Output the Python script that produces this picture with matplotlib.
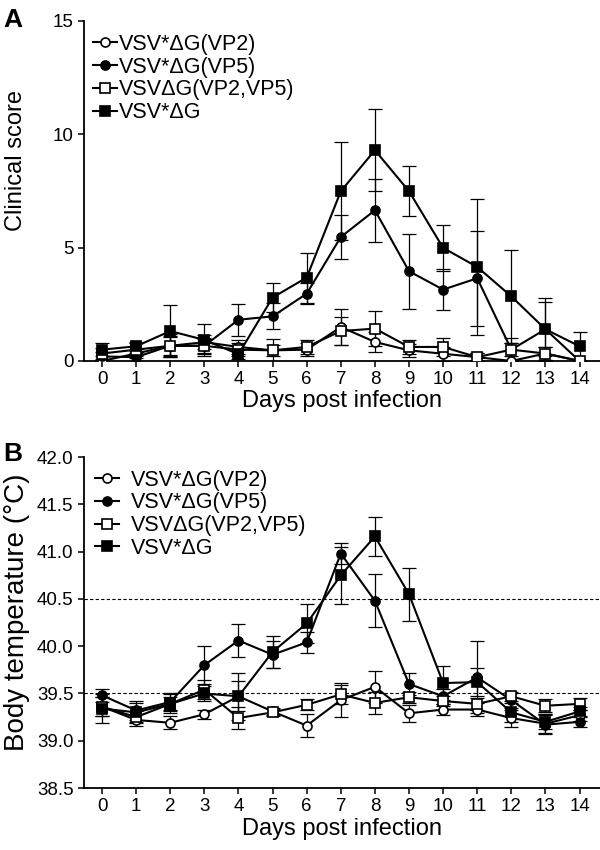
import matplotlib
matplotlib.use("Agg")
import matplotlib.pyplot as plt
from matplotlib.ticker import FormatStrFormatter

plt.rcParams['font.family'] = ['Liberation Sans', 'DejaVu Sans']

days = list(range(15))
labels = ['VSV*\u0394G(VP2)', 'VSV*\u0394G(VP5)', 'VSV\u0394G(VP2,VP5)', 'VSV*\u0394G']

# Panel A - clinical score
score_vp2 = [0, 0.33, 0.67, 0.83, 0.62, 0.47, 0.5, 1.5, 0.84, 0.47, 0.32, 0.17, 0, 0.33, 0]
score_vp2_err = [0, 0.2, 0.4, 0.3, 0.3, 0.25, 0.3, 0.78, 0.44, 0.3, 0.3, 0.17, 0, 0.3, 0]
score_vp5 = [0.2, 0.17, 0.67, 0.67, 1.82, 1.97, 2.97, 5.47, 6.65, 3.96, 3.15, 3.65, 0.5, 1.4, 0]
score_vp5_err = [0.2, 0.2, 0.5, 0.35, 0.71, 0.57, 0.47, 0.95, 1.38, 1.66, 0.92, 2.1, 0.5, 1.2, 0]
score_vp25 = [0.33, 0.5, 0.67, 0.67, 0.5, 0.47, 0.62, 1.32, 1.43, 0.62, 0.62, 0.17, 0.5, 0.33, 0]
score_vp25_err = [0.25, 0.3, 0.45, 0.3, 0.3, 0.5, 0.3, 0.63, 0.78, 0.3, 0.4, 0.17, 0.3, 0.3, 0]
score_dg = [0.5, 0.65, 1.32, 0.93, 0.3, 2.8, 3.68, 7.49, 9.3, 7.49, 4.99, 4.15, 2.85, 1.4, 0.65]
score_dg_err = [0.3, 0.2, 1.14, 0.7, 0.2, 0.66, 1.1, 2.16, 1.8, 1.1, 1.0, 3.0, 2.05, 1.4, 0.65]

# Panel B - body temperature
temp_vp2 = [39.36, 39.22, 39.19, 39.28, 39.47, 39.31, 39.16, 39.43, 39.57, 39.29, 39.33, 39.33, 39.24, 39.18, 39.27]
temp_vp2_err = [0.1, 0.06, 0.07, 0.05, 0.16, 0.04, 0.12, 0.18, 0.17, 0.09, 0.06, 0.07, 0.09, 0.1, 0.06]
temp_vp5 = [39.48, 39.32, 39.41, 39.80, 40.06, 39.91, 40.04, 40.98, 40.48, 39.60, 39.47, 39.67, 39.43, 39.17, 39.20]
temp_vp5_err = [0.07, 0.1, 0.1, 0.2, 0.17, 0.14, 0.11, 0.11, 0.28, 0.12, 0.08, 0.38, 0.08, 0.1, 0.05]
temp_vp25 = [39.36, 39.25, 39.39, 39.54, 39.24, 39.30, 39.38, 39.49, 39.40, 39.46, 39.42, 39.39, 39.47, 39.37, 39.39]
temp_vp25_err = [0.1, 0.06, 0.07, 0.1, 0.12, 0.04, 0.06, 0.1, 0.12, 0.06, 0.05, 0.06, 0.05, 0.07, 0.06]
temp_dg = [39.34, 39.30, 39.39, 39.50, 39.47, 39.94, 40.24, 40.75, 41.16, 40.55, 39.61, 39.62, 39.30, 39.20, 39.31]
temp_dg_err = [0.15, 0.1, 0.1, 0.08, 0.25, 0.17, 0.21, 0.3, 0.21, 0.28, 0.18, 0.15, 0.1, 0.08, 0.05]

styles = [('o', 'white'), ('o', 'black'), ('s', 'white'), ('s', 'black')]


def draw_panel(ax, series, errs, ylim, yticks):
    for (mk, fc), y, e, lab in zip(styles, series, errs, labels):
        ax.errorbar(days, y, yerr=e, fmt='none', ecolor='black', elinewidth=0.9,
                    capsize=5, capthick=0.9, zorder=2)
        ax.plot(days, y, marker=mk, mfc=fc, mec='black', mew=1.2, ms=6.5,
                color='black', lw=1.5, label=lab, zorder=3)
    ax.set_xlim(-0.53, 14.6)
    ax.set_ylim(*ylim)
    ax.set_xticks(days)
    ax.set_yticks(yticks)
    for s in ['top', 'right']:
        ax.spines[s].set_visible(False)
    for s in ['left', 'bottom']:
        ax.spines[s].set_linewidth(1.3)
    ax.tick_params(direction='out', length=4, width=1.1, labelsize=13.5)
    ax.set_xlabel('Days post infection', fontsize=17)


fig = plt.figure(figsize=(6, 8.5), dpi=100)

axA = fig.add_axes([0.14, 0.5753, 0.86, 0.4])
draw_panel(axA, [score_vp2, score_vp5, score_vp25, score_dg],
           [score_vp2_err, score_vp5_err, score_vp25_err, score_dg_err],
           (0, 15), [0, 5, 10, 15])
axA.set_ylabel('Clinical score', fontsize=17)
axA.yaxis.set_label_coords(-0.11, 0.59)
axA.xaxis.set_label_coords(0.5, -0.085)
axA.legend(loc='upper left', bbox_to_anchor=(0.018, 0.962), frameon=False,
           fontsize=15.5, handlelength=1.1, handletextpad=0.1,
           labelspacing=0.08, borderpad=0, borderaxespad=0)

axB = fig.add_axes([0.14, 0.0729, 0.86, 0.3894])
draw_panel(axB, [temp_vp2, temp_vp5, temp_vp25, temp_dg],
           [temp_vp2_err, temp_vp5_err, temp_vp25_err, temp_dg_err],
           (38.5, 42.0), [38.5, 39.0, 39.5, 40.0, 40.5, 41.0, 41.5, 42.0])
axB.yaxis.set_major_formatter(FormatStrFormatter('%.1f'))
for lvl in [39.5, 40.5]:
    axB.axhline(lvl, color='black', lw=0.8, ls=(0, (3, 2)), zorder=1)
axB.set_ylabel('Body temperature (\u00b0C)', fontsize=20)
axB.yaxis.set_label_coords(-0.105, 0.53)
axB.xaxis.set_label_coords(0.5, -0.09)
axB.legend(loc='upper left', bbox_to_anchor=(0.022, 0.962), frameon=False,
           fontsize=15.5, handlelength=1.1, handletextpad=0.55,
           labelspacing=0.08, borderpad=0, borderaxespad=0)

fig.text(0.005, 1 - 8 / 850, 'A', fontsize=19, fontweight='bold', va='top')
fig.text(0.005, 1 - 442 / 850, 'B', fontsize=19, fontweight='bold', va='top')

fig.savefig('out.png', dpi=100)
